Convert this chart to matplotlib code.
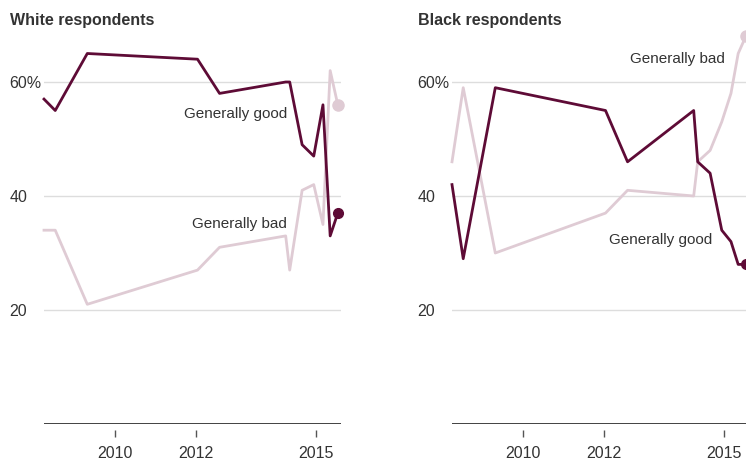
import numpy as np
import matplotlib
matplotlib.use("Agg")
import matplotlib.pyplot as plt

# --- data ---
dates = [2008.22, 2008.5, 2009.3, 2012.05, 2012.6, 2014.25, 2014.35,
         2014.66, 2014.95, 2015.18, 2015.36, 2015.55]

white_good = [57, 55, 65, 64, 58, 60, 60, 49, 47, 56, 33, 37]
white_bad = [34, 34, 21, 27, 31, 33, 27, 41, 42, 35, 62, 56]

black_good = [42, 29, 59, 55, 46, 55, 46, 44, 34, 32, 28, 28]
black_bad = [46, 59, 30, 37, 41, 40, 46, 48, 53, 58, 65, 68]

panels = [
    ("White respondents", white_good, white_bad,
     [("Generally good", 2014.28, 53.6), ("Generally bad", 2014.28, 34.4)]),
    ("Black respondents", black_good, black_bad,
     [("Generally good", 2014.72, 31.6), ("Generally bad", 2015.03, 63.3)]),
]

year_ticks = [2010, 2012, 2015]
y_ticks = [20, 40, 60]
y_tick_labels = ["20", "40", "60%"]

DARK = "#5e0b36"
LIGHT = "#dfcbd4"
TEXT = "#333333"

plt.rcParams["font.family"] = ["Liberation Sans", "DejaVu Sans"]

fig = plt.figure(figsize=(7.46, 4.61), dpi=100)

ax_left = [44 / 746, 452 / 746]
title_x = [10 / 746, 418 / 746]

for i, (title, good, bad, labels) in enumerate(panels):
    ax = fig.add_axes([ax_left[i], 37 / 461, 297 / 746, 399 / 461])
    ax.set_xlim(2008.22, 2015.63)
    ax.set_ylim(0, 70)

    for y in y_ticks:
        ax.axhline(y, color="#dddddd", lw=1, zorder=1)
    ax.axhline(0, color="#333333", lw=1.3, zorder=2)

    ax.plot(dates, bad, color=LIGHT, lw=2, zorder=3, clip_on=False)
    ax.plot(dates, good, color=DARK, lw=2, zorder=4, clip_on=False)
    ax.plot(dates[-1], bad[-1], "o", color=LIGHT, ms=8, zorder=5, clip_on=False)
    ax.plot(dates[-1], good[-1], "o", color=DARK, ms=7, zorder=6, clip_on=False)

    for text, x, y in labels:
        ax.text(x, y, text, ha="right", va="baseline", fontsize=11, color=TEXT)

    for s in ["top", "right", "left"]:
        ax.spines[s].set_visible(False)
    ax.spines["bottom"].set_position(("outward", 4.5))
    ax.spines["bottom"].set_visible(False)

    ax.set_xticks(year_ticks)
    ax.set_xticklabels([str(y) for y in year_ticks])
    ax.tick_params(axis="x", length=5, width=1, color="#555555", pad=6,
                   labelsize=11.5, labelcolor=TEXT)

    ax.set_yticks(y_ticks)
    ax.set_yticklabels(y_tick_labels)
    ax.tick_params(axis="y", length=0, pad=25, labelsize=11.5, labelcolor=TEXT)
    for lab in ax.get_yticklabels():
        lab.set_horizontalalignment("left")

    fig.text(title_x[i], 1 - 21 / 461, title, ha="left", va="center",
             fontsize=11.5, fontweight="bold", color=TEXT)

fig.savefig("out.png", dpi=100)
